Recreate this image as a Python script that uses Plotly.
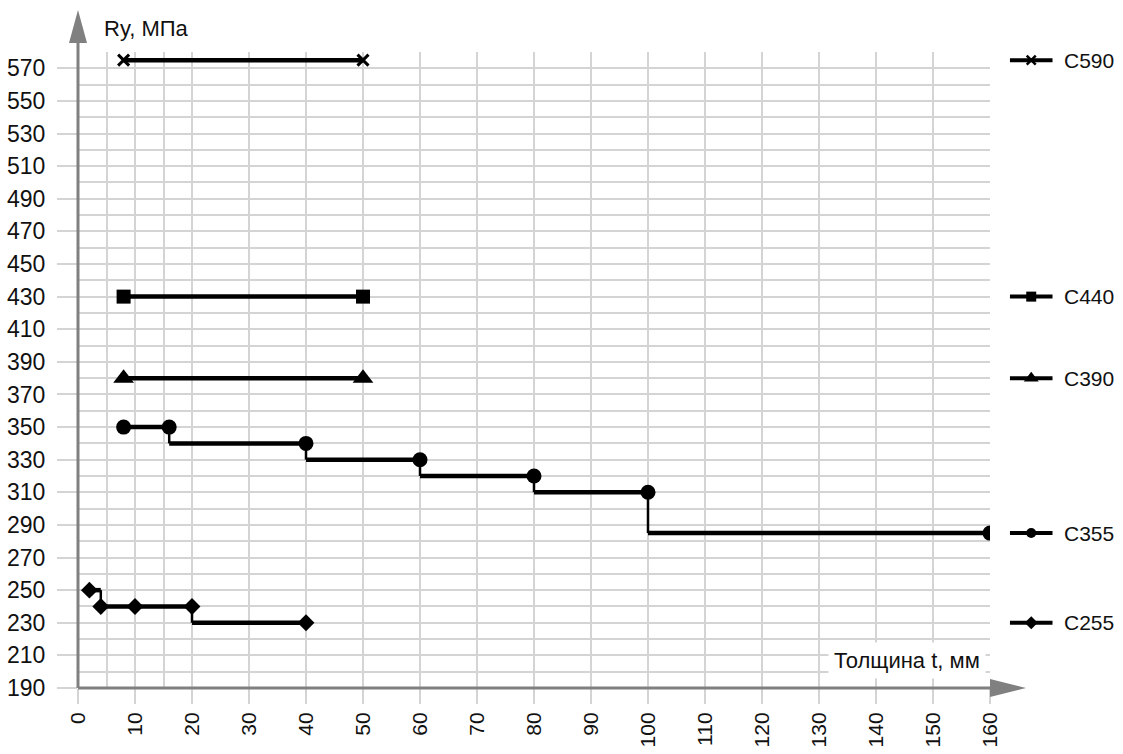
import plotly.graph_objects as go

# ---------------- data ----------------
series_names = ["C590", "C440", "C390", "C355", "C255"]

# horizontal step segments: start thickness, end thickness, Ry value
c590_seg_start = [8];   c590_seg_end = [50];  c590_seg_val = [575]
c440_seg_start = [8];   c440_seg_end = [50];  c440_seg_val = [430]
c390_seg_start = [8];   c390_seg_end = [50];  c390_seg_val = [380]
c355_seg_start = [8, 16, 40, 60, 80, 100]
c355_seg_end = [16, 40, 60, 80, 100, 160]
c355_seg_val = [350, 340, 330, 320, 310, 285]
c255_seg_start = [2, 4, 20]
c255_seg_end = [4, 20, 40]
c255_seg_val = [250, 240, 230]

# marker points
c590_mx = [8, 50];  c590_my = [575, 575]
c440_mx = [8, 50];  c440_my = [430, 430]
c390_mx = [8, 50];  c390_my = [380, 380]
c355_mx = [8, 16, 40, 60, 80, 100, 160]
c355_my = [350, 350, 340, 330, 320, 310, 285]
c255_mx = [2, 4, 10, 20, 40]
c255_my = [250, 240, 240, 240, 230]

x_ticks = list(range(0, 161, 10))
x_extra_grid = [5, 15]
y_ticks = list(range(190, 571, 20))
y_grid = list(range(190, 581, 10))

# ---------------- styling ----------------
W, H = 1123, 754
ML, MR, MT, MB = 78, 0, 52, 66
PW = W - ML - MR
PH = H - MT - MB
x_right_px = 990
dom_end = (x_right_px - ML) / PW

FONT = "Liberation Sans Narrow, Arial Narrow, Liberation Sans, Arial, sans-serif"
FONT_N = "Liberation Sans, Arial, sans-serif"
BLACK = "#000000"
GRID = "#d4d4d4"
AXIS = "#808080"
TXT = "#111111"

symbols = {
    "C590": dict(symbol="x-thin", size=11, line=dict(width=3, color=BLACK)),
    "C440": dict(symbol="square", size=14),
    "C390": dict(symbol="triangle-up", size=18),
    "C355": dict(symbol="circle", size=15),
    "C255": dict(symbol="diamond", size=13),
}
legend_symbols = {
    "C590": dict(symbol="x-thin", size=9, line=dict(width=2.5, color=BLACK)),
    "C440": dict(symbol="square", size=10),
    "C390": dict(symbol="triangle-up", size=13),
    "C355": dict(symbol="circle", size=10),
    "C255": dict(symbol="diamond", size=10),
}

data = {
    "C590": (c590_seg_start, c590_seg_end, c590_seg_val, c590_mx, c590_my),
    "C440": (c440_seg_start, c440_seg_end, c440_seg_val, c440_mx, c440_my),
    "C390": (c390_seg_start, c390_seg_end, c390_seg_val, c390_mx, c390_my),
    "C355": (c355_seg_start, c355_seg_end, c355_seg_val, c355_mx, c355_my),
    "C255": (c255_seg_start, c255_seg_end, c255_seg_val, c255_mx, c255_my),
}

fig = go.Figure()

for name in series_names:
    s0, s1, sv, mx, my = data[name]
    # horizontal segments
    hx, hy = [], []
    for a, b, v in zip(s0, s1, sv):
        hx += [a, b, None]
        hy += [v, v, None]
    fig.add_trace(go.Scatter(x=hx, y=hy, mode="lines",
                             line=dict(color=BLACK, width=4.5),
                             showlegend=False, hoverinfo="skip"))
    # vertical connectors
    vx, vy = [], []
    for i in range(len(sv) - 1):
        vx += [s1[i], s1[i], None]
        vy += [sv[i], sv[i + 1], None]
    if vx:
        fig.add_trace(go.Scatter(x=vx, y=vy, mode="lines",
                                 line=dict(color=BLACK, width=2.5),
                                 showlegend=False, hoverinfo="skip"))
    # markers
    m = dict(color=BLACK)
    m.update(symbols[name])
    fig.add_trace(go.Scatter(x=mx, y=my, mode="markers", marker=m,
                             name=name, showlegend=False))

    # legend glyph on the right (x2 axis), at the series' last value
    lm = dict(color=BLACK)
    lm.update(legend_symbols[name])
    ly = sv[-1]
    fig.add_trace(go.Scatter(x=[0.15, 0.31, 0.47], y=[ly, ly, ly],
                             mode="lines", line=dict(color=BLACK, width=4),
                             xaxis="x2", yaxis="y2", showlegend=False,
                             hoverinfo="skip"))
    fig.add_trace(go.Scatter(x=[0.31], y=[ly], mode="markers", marker=lm,
                             xaxis="x2", yaxis="y2", showlegend=False,
                             hoverinfo="skip"))
    fig.add_annotation(x=0.54, y=ly, xref="x2", yref="y2", text=name,
                       showarrow=False, xanchor="left", yanchor="middle",
                       font=dict(family=FONT_N, size=21, color=TXT))

fig.update_layout(
    template="none",
    width=W, height=H, autosize=False,
    margin=dict(l=ML, r=MR, t=MT, b=MB, pad=0, autoexpand=False),
    paper_bgcolor="white", plot_bgcolor="white",
    showlegend=False,
    xaxis=dict(domain=[0, dom_end], range=[0, 160], showline=False,
               automargin=False,
               zeroline=False, tickmode="array", tickvals=x_ticks,
               ticks="outside", ticklen=15, tickcolor=GRID, tickwidth=1.5,
               tickangle=-90, showgrid=True, gridcolor=GRID, gridwidth=1.5,
               tickfont=dict(family=FONT, size=21, color=TXT),
               minor=dict(tickmode="array", tickvals=x_extra_grid,
                          showgrid=True, gridcolor=GRID, gridwidth=1.5,
                          ticks=""),
               fixedrange=True),
    yaxis=dict(range=[190, 580], showline=False, zeroline=False,
               automargin=False,
               tickmode="array", tickvals=y_ticks, ticks="outside",
               ticklen=20, tickcolor=GRID, tickwidth=1.5,
               ticklabelstandoff=7,
               showgrid=True, gridcolor=GRID, gridwidth=1.5,
               tickfont=dict(family=FONT, size=23, color=TXT),
               minor=dict(tickmode="array", tickvals=y_grid,
                          showgrid=True, gridcolor=GRID, gridwidth=1.5,
                          ticks=""),
               fixedrange=True),
    xaxis2=dict(domain=[dom_end, 1], range=[0, 1], visible=False,
                automargin=False, anchor="y2", fixedrange=True),
    yaxis2=dict(range=[190, 580], visible=False, anchor="x2",
                automargin=False, fixedrange=True),
)

# axis arrows (decoration)
def px_x(p):
    return (p - ML) / PW

def px_y(p):
    return (H - MB - p) / PH

axis_line = dict(color=AXIS, width=3)
fig.add_shape(type="line", xref="paper", yref="paper",
              x0=0, y0=0, x1=0, y1=px_y(43), line=axis_line)
fig.add_shape(type="path", xref="paper", yref="paper",
              path=f"M {px_x(69)} {px_y(43)} L {px_x(87)} {px_y(43)} L {px_x(78)} {px_y(10)} Z",
              fillcolor=AXIS, line=dict(width=0))
fig.add_shape(type="line", xref="paper", yref="paper",
              x0=0, y0=0, x1=px_x(990), y1=0, line=axis_line)
fig.add_shape(type="path", xref="paper", yref="paper",
              path=f"M {px_x(990)} {px_y(679)} L {px_x(990)} {px_y(697)} L {px_x(1026)} {px_y(688)} Z",
              fillcolor=AXIS, line=dict(width=0))

# axis titles
fig.add_annotation(x=px_x(102), y=px_y(28), xref="paper", yref="paper",
                   text="Ry, МПа", showarrow=False, xanchor="left",
                   yanchor="middle",
                   font=dict(family=FONT_N, size=22, color=TXT))
fig.add_annotation(x=px_x(986), y=px_y(660), xref="paper", yref="paper",
                   text="Толщина t, мм", showarrow=False, xanchor="right",
                   yanchor="middle", bgcolor="white", borderpad=5,
                   font=dict(family=FONT, size=22, color=TXT))

fig.write_html(
    "out.html",
    config={"displayModeBar": False, "responsive": False},
    post_script="document.body.style.margin='0';document.body.style.overflow='hidden';",
)
